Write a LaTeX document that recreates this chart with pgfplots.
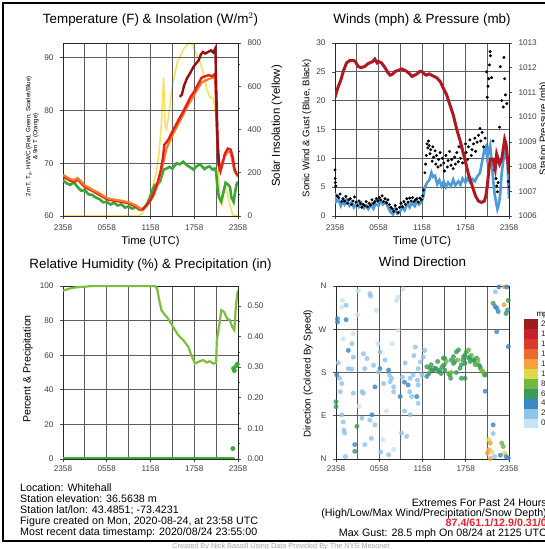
\documentclass[border=0pt]{standalone}
\usepackage{fontspec}
\setmainfont{Liberation Sans}
\usepackage{pgfplots}
\pgfplotsset{compat=1.18}
\definecolor{tRed}{RGB}{226,32,28}
\definecolor{tScar}{RGB}{150,15,22}
\definecolor{tOrg}{RGB}{245,125,35}
\definecolor{tGrn}{RGB}{60,165,55}
\definecolor{tYel}{RGB}{246,224,90}
\definecolor{pRed}{RGB}{175,25,35}
\definecolor{wBlu}{RGB}{80,155,215}
\definecolor{rhGrn}{RGB}{125,190,65}
\definecolor{prGrn}{RGB}{60,170,55}
\definecolor{gridc}{RGB}{95,95,95}
\definecolor{exRed}{RGB}{225,35,45}

\pgfplotsset{
  panel/.style={
    scale only axis, width=175pt, height=173pt,
    xmin=0, xmax=24,
    xtick={0,6,12,18,24}, minor xtick={3,9,15,21},
    xticklabels={2358,0558,1158,1758,2358},
    xtick pos=bottom, ytick pos=left,
    grid=both,
    major grid style={gridc, line width=0.8pt},
    minor grid style={gridc, line width=0.8pt},
    axis line style={black!85, line width=0.9pt},
    tick align=outside,
    tick style={black!70, line width=0.6pt},
    major tick length=3pt, minor tick length=0pt,
    tick label style={font=\fontsize{8.2}{9}\selectfont, text=black!75},
    xticklabel style={yshift=-2pt},
    yticklabel style={xshift=-3pt},
    /pgf/number format/assume math mode=true,
    title style={font=\fontsize{13.4}{15}\selectfont, at={(0.5,1)}, anchor=base, yshift=13.5pt},
    xlabel style={font=\fontsize{11.2}{12}\selectfont, at={(axis description cs:0.5,0)}, anchor=base, yshift=-28.5pt},
  },
  rside/.style={
    scale only axis, width=175pt, height=173pt,
    xmin=0, xmax=24, axis x line=none, axis y line*=right,
    axis line style={black!85, line width=0.9pt},
    tick align=outside,
    tick style={black!70, line width=0.6pt}, major tick length=3pt, minor tick length=2pt,
    tick label style={font=\fontsize{8.2}{9}\selectfont, text=black!75},
    yticklabel style={xshift=3pt},
    /pgf/number format/assume math mode=true,
    /pgf/number format/set thousands separator={},
  },
}

\begin{document}
\begin{tikzpicture}
\useasboundingbox (0,0) rectangle (545pt,549pt);
\clip (0,0) rectangle (545pt,549pt);
\fill[white] (0,0) rectangle (545pt,549pt);

% ---------- Temperature & insolation ----------
\begin{axis}[rside, at={(63pt,333pt)}, anchor=south west,
  ymin=0, ymax=800, ytick={0,200,...,800}, minor y tick num=1,
]
\addplot[tYel, line width=1.5pt] table {
t s
0 0
10.3 0
10.8 10
11.3 40
11.9 97
12.4 150
12.8 200
13.2 300
13.5 430
13.8 640
14.0 420
14.2 400
14.6 490
15.0 606
15.7 713
16.6 775
17.3 800
17.8 790
18.3 745
18.8 713
19.3 652
19.7 590
20.1 552
20.6 544
21.0 452
21.3 221
21.5 66
21.8 50
22.2 143
22.6 97
23.0 35
23.3 5
24 0
};
\end{axis}

\begin{axis}[panel, at={(63pt,333pt)}, anchor=south west,
  ymin=60, ymax=92.8, ytick={60,70,80,90},
  title={Temperature (F) \& Insolation (W/m$^2$)},
  xlabel={Time (UTC)},
  ylabel={2m T, T$_\mathrm{d}$, HI/WC (Red, Green, Scarlet/Blue)\\\& 9m T (Orange)},
  ylabel style={font=\fontsize{6.2}{7}\selectfont, align=center, at={(axis description cs:-0.175,0.46)}, anchor=center},
]
\addplot[tGrn, line width=2.6pt] table {
t v
0 66.8
0.5 66.2
1 65.9
1.5 66.4
2 65.5
2.5 64.8
3 64.9
3.5 64.1
4 64.0
4.5 63.5
5 63.2
5.5 62.6
6 62.7
6.5 62.2
7 62.5
7.5 62.0
8 62.2
8.5 61.6
9 61.8
9.5 61.4
10 61.7
10.5 61.2
11 61.4
11.5 62.2
11.9 63.4
12.3 65.0
12.6 65.9
13.0 66.0
13.3 66.5
13.8 68.8
14.2 69.0
14.6 69.3
15.0 69.0
15.6 70.0
16.0 69.8
16.5 70.3
17.0 69.6
17.5 69.2
17.9 68.8
18.3 69.4
18.8 69.8
19.4 68.9
19.8 69.3
20.1 69.4
20.5 68.8
20.8 69.0
21.0 68.4
21.2 65.0
21.4 63.5
21.7 62.8
22.0 64.5
22.3 66.3
22.6 66.0
22.9 65.5
23.1 63.5
23.4 62.7
23.6 64.5
23.8 66.0
24 66.5
};
\addplot[tRed, line width=2.4pt] table {
t v
0 67.5
1 66.7
1.5 66.5
2 66.9
3 65.5
4 64.8
5 64.0
6 63.2
7 62.9
8 62.7
9 62.4
10 61.8
10.8 61.1
};
\addplot[tOrg, line width=2.2pt] table {
t v
0 67.8
1 67.0
1.5 66.8
2 67.2
3 65.8
4 65.0
5 64.3
6 63.4
7 63.1
8 62.9
9 62.6
10 62.0
10.8 61.2
11.6 62.1
12.4 63.8
13.1 66.4
13.7 69.8
14.2 72.8
15 75.3
16 77.9
17 80.6
18 83.0
19 85.3
20 86.0
20.9 86.3
21.1 76.0
21.4 69.0
22.2 71.3
22.6 72.3
23 72.0
23.5 68.6
24 67.4
};
\addplot[tRed, line width=2.4pt] table {
t v
10.8 61.1
11.2 61.6
11.6 62.3
12.0 63.0
12.4 64.2
12.8 65.6
13.1 67.0
13.4 68.6
13.7 71.0
13.9 73.5
14.2 74.0
14.5 74.6
15.0 76.0
15.5 77.3
16.0 78.6
16.5 79.8
17.0 81.2
17.5 82.6
18.0 83.6
18.5 84.9
19.0 86.2
19.5 86.5
20.0 86.7
20.5 86.5
20.9 87.0
21.0 82.0
21.2 73.0
21.4 69.5
21.6 68.5
21.9 70.0
22.2 71.8
22.6 72.8
23.0 72.6
23.3 71.0
23.5 69.0
23.8 68.0
24.0 67.8
};
\addplot[tScar, line width=2.4pt] table {
t v
16.0 82.6
16.3 83.0
16.6 84.7
17.0 86.1
17.4 87.0
17.9 88.3
18.3 89.0
18.6 89.5
18.9 90.6
19.2 91.1
19.5 90.8
19.9 91.1
20.3 91.4
20.6 91.0
20.9 91.8
21.0 85.0
21.2 74.0
21.4 69.5
};
\end{axis}

% ---------- Winds & pressure ----------
\begin{axis}[panel, at={(335pt,333pt)}, anchor=south west, width=174pt,
  ymin=0, ymax=30, ytick={0,5,...,30},
  title={Winds (mph) \& Pressure (mb)},
  xlabel={Time (UTC)},
  ylabel={Sonic Wind \& Gust (Blue, Black)},
  ylabel style={font=\fontsize{9.6}{11}\selectfont, at={(axis description cs:-0.161,0.506)}, anchor=center},
]
\addplot[wBlu, line width=2.6pt] table {
t w
0 4.0
0.2 2.5
0.5 2.8
0.8 1.8
1.0 2.5
1.3 2.0
1.6 2.9
2.0 1.8
2.3 2.4
2.6 1.5
3.0 2.2
3.3 1.6
3.6 2.3
4.0 1.4
4.3 1.8
4.6 1.2
5.0 2.0
5.3 1.3
5.6 2.1
6.0 1.8
6.3 2.6
6.6 2.0
7.0 2.4
7.3 1.6
7.6 0.8
8.0 0.3
8.3 1.2
8.6 0.4
9.0 0.8
9.3 1.6
9.6 1.0
10.0 2.2
10.3 1.5
10.6 2.3
11.0 1.7
11.3 2.5
11.6 2.0
12.0 2.6
12.2 3.5
12.4 5.0
12.7 5.8
13.0 6.2
13.3 7.5
13.5 6.8
13.8 7.0
14.1 5.5
14.4 6.2
14.7 5.2
15.0 6.0
15.3 5.0
15.6 5.8
16.0 5.2
16.3 6.3
16.6 5.3
17.0 6.0
17.3 5.4
17.6 6.5
18.0 5.8
18.3 6.6
18.6 5.9
19.0 6.4
19.3 6.0
19.6 6.8
20.0 7.5
20.3 9.5
20.6 11.5
20.8 12.0
21.0 10.0
21.2 11.5
21.4 12.3
21.6 9.5
21.8 6.5
22.0 4.0
22.2 2.5
22.4 1.2
22.6 2.0
22.8 4.0
23.0 7.5
23.2 9.5
23.4 10.5
23.6 11.5
23.8 9.0
24.0 3.0
};
\addplot[only marks, mark=*, mark size=1.3pt, black] table {
t g
0 8.0
0.02 6.5
0.05 5.8
0.1 5.2
0.3 3.5
0.5 3.2
0.7 3.8
0.9 2.5
1.1 3.0
1.3 2.6
1.5 3.4
1.7 2.2
1.9 2.8
2.1 3.0
2.3 2.0
2.5 2.6
2.7 3.3
2.9 2.4
3.1 1.8
3.3 2.6
3.5 2.2
3.7 1.5
3.9 2.0
4.1 1.8
4.3 2.5
4.5 1.6
4.7 2.2
4.9 1.9
5.1 2.8
5.3 2.2
5.5 2.5
5.7 3.0
5.9 2.6
6.1 3.2
6.3 2.8
6.5 3.5
6.7 2.5
6.9 3.0
7.1 2.3
7.3 2.8
7.5 2.0
7.7 1.5
7.9 1.2
8.1 0.8
8.3 1.8
8.5 1.2
8.7 0.6
8.9 1.5
9.1 2.2
9.3 1.6
9.5 2.5
9.7 2.0
9.9 3.0
10.1 2.4
10.3 3.1
10.5 2.6
10.7 3.2
10.9 2.5
11.1 2.8
11.3 3.0
11.5 2.4
11.7 3.1
11.9 2.8
12.1 3.5
12.2 4.5
12.4 7.5
12.5 9.0
12.6 10.5
12.7 12.5
12.8 11.8
12.9 13.0
13.0 12.2
13.1 10.8
13.2 11.5
13.4 9.5
13.5 12.0
13.6 10.2
13.8 11.3
13.9 9.0
14.0 10.5
14.2 8.5
14.3 9.8
14.5 11.0
14.6 8.8
14.8 10.0
15.0 9.2
15.1 7.8
15.3 10.5
15.5 8.5
15.6 9.6
15.8 11.2
16.0 8.8
16.1 9.8
16.3 8.2
16.5 10.2
16.6 9.0
16.8 11.0
17.0 9.4
17.1 12.0
17.3 10.0
17.5 11.8
17.6 9.2
17.8 10.8
18.0 12.5
18.1 11.0
18.3 9.8
18.4 12.0
18.6 13.2
18.8 10.5
18.9 11.5
19.1 12.5
19.3 13.5
19.4 11.2
19.6 12.8
19.8 14.0
20.0 15.2
20.1 13.0
20.3 14.5
20.5 12.0
20.7 13.5
20.9 25.0
21.0 20.6
21.1 22.5
21.2 23.8
21.3 26.2
21.4 28.5
21.45 27.8
21.6 24.0
21.8 13.0
22.0 8.0
22.2 6.5
22.3 5.2
22.4 4.2
22.5 5.8
22.7 15.4
22.8 25.9
23.0 20.0
23.2 18.9
23.3 27.5
23.4 23.8
23.5 21.0
23.7 19.5
23.9 6.0
24.0 5.0
};
\end{axis}

\begin{axis}[rside, at={(335pt,333pt)}, anchor=south west, width=174pt,
  ymin=1006, ymax=1013, ytick={1006,1007,...,1013}, minor y tick num=1,
]
\addplot[pRed, line width=3pt] table {
t p
0 1010.8
0.4 1011.2
0.8 1011.5
1.2 1011.9
1.6 1012.2
2.1 1012.3
2.5 1012.3
2.8 1012.25
3.2 1012.05
3.6 1012.0
4.1 1012.05
4.5 1012.15
4.8 1012.2
5.2 1012.25
5.5 1012.35
5.8 1012.2
6.0 1012.25
6.4 1012.2
6.9 1012.0
7.3 1011.8
7.6 1011.7
8.0 1011.75
8.3 1011.85
8.8 1011.9
9.2 1011.95
9.6 1011.9
9.9 1011.85
10.3 1011.75
10.6 1011.65
11.0 1011.7
11.3 1011.75
11.7 1011.85
12.0 1011.85
12.3 1011.75
12.6 1011.7
13.0 1011.75
13.5 1011.67
14.0 1011.6
14.5 1011.45
14.9 1011.2
15.4 1010.9
15.9 1010.45
16.3 1010.1
16.8 1009.5
17.3 1009.0
17.9 1008.3
18.4 1007.7
19.0 1007.15
19.4 1006.8
19.8 1006.6
20.2 1006.55
20.6 1006.6
20.8 1006.8
21.0 1007.2
21.2 1007.8
21.4 1008.3
21.8 1008.3
22.1 1007.9
22.3 1008.5
22.7 1008.1
23.0 1008.3
23.2 1008.7
23.4 1009.1
23.6 1008.9
23.8 1008.3
24.0 1007.7
};
\end{axis}

% ---------- Relative humidity & precipitation ----------
\begin{axis}[panel, at={(63pt,90pt)}, anchor=south west,
  ymin=0, ymax=100, ytick={0,20,...,100},
  xticklabel style={yshift=2pt},
  title={Relative Humidity (\%) \& Precipitation (in)},
  title style={yshift=-2pt},
  ylabel={Percent \& Precipitation},
  ylabel style={font=\fontsize{10.6}{12}\selectfont, at={(axis description cs:-0.2,0.52)}, anchor=center},
]
\addplot[rhGrn, line width=2.2pt] table {
t rh
0 97.3
0.5 98.0
1.0 98.6
1.7 99.2
3.0 99.6
4 100
12.6 100
12.9 98.6
13.2 91.9
13.5 86.0
14.0 83.2
14.4 81.2
15.1 76.4
15.8 71.6
16.5 68.7
17.2 64.8
17.6 60.0
18.1 55.2
18.6 56.2
19.2 57.2
19.7 55.8
20.1 56.5
20.6 55.2
21.0 55.5
21.1 68.7
21.5 79.3
21.7 86.0
22.1 85.0
22.5 81.2
22.9 80.2
23.2 76.4
23.5 74.5
23.7 87.8
23.9 95.5
24.0 97.3
};
\end{axis}

\begin{axis}[rside, at={(63pt,90pt)}, anchor=south west,
  ymin=0, ymax=0.565, ytick={0,0.1,...,0.5}, minor y tick num=1,
  yticklabel style={/pgf/number format/.cd, fixed, fixed zerofill, precision=2},
]
\addplot[prGrn, line width=4.4pt, line cap=round] table {
t p
0.1 0
23.3 0
};
\addplot[only marks, mark=*, mark size=2.2pt, prGrn] table {
t p
23.3 0.034
23.4 0.296
23.5 0.289
23.8 0.305
23.9 0.31
};
\end{axis}

% ---------- Wind direction ----------
\begin{axis}[panel, at={(336pt,90pt)}, anchor=south west, width=173pt,
  ymin=0, ymax=360, ytick={0,90,180,270,360}, yticklabels={N,E,S,W,N},
  xticklabel style={yshift=2pt},
  title={Wind Direction},
  title style={yshift=0.5pt},
  ylabel={Direction (Colored By Speed)},
  ylabel style={font=\fontsize{9.8}{11}\selectfont, at={(axis description cs:-0.162,0.494)}, anchor=center},
  colormap={spd}{rgb255=(197,228,246) rgb255=(143,195,234) rgb255=(61,135,196)
    rgb255=(58,156,92) rgb255=(116,184,67) rgb255=(220,217,76) rgb255=(244,162,60)
    rgb255=(234,107,44) rgb255=(220,58,46) rgb255=(199,32,42) rgb255=(155,27,30)},
  colormap access=piecewise constant,
  point meta min=-1, point meta max=21,
  colorbar,
  colorbar style={
    at={(parent axis.south east)}, anchor=south west, xshift=6pt, yshift=31pt,
    scale only axis, width=15pt, height=109pt,
    ytick={0,2,...,20}, yticklabel pos=right,
    tick style={draw=none}, axis line style={draw=none},
    yticklabel style={font=\fontsize{8}{9}\selectfont, text=black!85, xshift=-1pt},
    /pgf/number format/assume math mode=true,
  },
]
\addplot[scatter, only marks, mark=*, mark size=2.2pt, point meta=explicit,
  fill opacity=0.8, draw opacity=0.8,
  scatter/use mapped color={draw=mapped color, fill=mapped color}] table[meta=s] {
t d s
0.2 292 4
0.2 285 4
1.4 290 4
1.4 320 1.5
0.8 316 0.5
3.1 350 0.5
4.7 344 1.5
4.8 339 1.5
5.6 309 0.5
8.4 330 0.5
8.6 337 0.5
9.3 354 0.5
8.6 268 0.5
2.4 261 0.5
2.2 240 1.5
1.7 226 4
2.4 212 1.5
3.8 219 1.5
4.3 209 1.5
6.1 223 1.5
6.8 206 1.5
5.2 195 1.5
4.0 188 1.5
1.7 188 2
2.2 187 1.5
6.1 188 4
5.9 181 2
7.3 185 4
7.4 175 2
7.7 168 2
7.5 161 2
8.0 150 2
8.0 140 1.5
8.9 130 4
6.6 157 1.5
5.4 150 4
3.8 137 2
3.6 140 2
2.4 137 1.5
0.8 157 1.5
0.6 140 2
0.0 119 5
0.0 109 5
0.8 92 2
1.0 77 2
2.9 68 5
3.6 85 1.5
5.0 92 4
4.7 81 1.5
5.4 71 1.5
1.2 54 2
2.6 30 4
2.6 16 5
4.0 30 1.5
4.9 43 1.5
7.3 9 1.5
9.1 54 1.5
9.8 47 1.5
10.3 92 1.5
10.0 154 4
10.3 168 1.5
10.7 175 1.5
11.3 164 2
11.2 130 4
11.4 116 1.5
11.4 154 2
11.7 202 1.5
12.3 226 1.5
12.1 212 1.5
11.4 188 1.5
11.9 175 2
0.5 168 1.5
0.3 200 1.5
0.1 175 4
1.1 60 1.5
6.5 40 0.5
6.2 15 1.5
8.0 20 0.5
1.3 5 1.5
9.5 100 1.5
10.5 130 1.5
7.0 100 0.5
3.2 110 0.5
3.0 300 0.5
1.0 250 0.5
0.9 330 0.5
5.8 240 0.5
7.8 240 0.5
9.6 200 1.5
10.8 215 1.5
11.0 233 1.5
9.2 170 1.5
9.5 160 4
10.2 140 1.5
12.6 192 6
12.6 172 4
12.9 178 6
13.0 189 6
13.2 196 6
13.3 185 6
13.5 185 6
13.7 189 6
13.9 188 6
14.1 203 6
14.2 182 6
14.4 185 6
14.6 178 6
14.7 192 6
14.9 210 6
15.0 196 6
15.1 185 6
15.1 209 6
15.3 203 8
15.6 178 8
15.8 175 6
15.9 168 6
16.0 206 6
16.0 180 8
16.3 213 6
16.3 199 6
16.5 203 6
16.7 223 6
16.7 180 6
16.9 206 8
17.0 227 6
17.2 189 6
17.4 196 6
17.4 168 6
17.6 206 6
17.7 213 6
17.9 216 6
17.9 168 6
17.9 199 6
18.1 223 6
18.4 227 8
18.4 210 6
18.6 203 6
18.6 213 6
18.8 216 8
19.0 206 6
19.1 206 6
19.3 199 6
19.3 196 8
19.5 210 6
19.7 206 8
19.8 196 6
20.0 189 8
20.0 192 6
20.2 185 8
20.4 182 8
20.5 178 8
20.6 175 8
20.7 175 6
20.7 141 4
22.6 358 4
23.4 358 12
23.7 358 4
22.1 348 1.5
21.8 324 6
22.1 317 4
22.3 314 4
22.5 307 4
23.3 321 11
23.6 303 6
23.8 310 4
22.3 265 4
23.9 234 4
21.8 71 4
21.8 53 1.5
21.2 40 10
21.4 33 12
21.2 19 12
21.0 12 12
21.6 15 10
23.0 33 8
23.2 26 8
22.8 8 4
23.4 12 10
23.6 5 4
23.9 2 4
21.4 1 12
22.0 5 1.5
23.9 330 6
};
\end{axis}

% ---------- right-hand axis titles, frame and notes ----------
\node[rotate=90, font=\fontsize{11.4}{12}\selectfont] at (277pt,423pt) {Solar Insolation (Yellow)};
\node[rotate=90, font=\fontsize{9.6}{11}\selectfont] at (544pt,420.5pt) {Station Pressure (mb)};
\node[anchor=base west, font=\fontsize{8}{9}\selectfont] at (533pt,232pt) {mph};
\draw[line width=2.2pt] (3pt,8pt) rectangle (600pt,546pt);
\begin{scope}[every node/.style={font=\fontsize{10.7}{12}\selectfont, inner sep=0pt}]
\node[anchor=base west] at (20pt,57.5pt) {Location: Whitehall};
\node[anchor=base west] at (20pt,46.5pt) {Station elevation: 36.5638 m};
\node[anchor=base west] at (20pt,35.5pt) {Station lat/lon: 43.4851; -73.4231};
\node[anchor=base west] at (20pt,24.5pt) {Figure created on Mon, 2020-08-24, at 23:58 UTC};
\node[anchor=base west] at (20pt,13.5pt) {Most recent data timestamp: 2020/08/24 23:55:00};
\node[anchor=base east] at (547pt,42.5pt) {Extremes For Past 24 Hours};
\node[anchor=base east] at (547pt,32.5pt) {(High/Low/Max Wind/Precipitation/Snow Depth)};
\node[anchor=base east, text=exRed, font=\fontsize{10.7}{12}\bfseries] at (547pt,22.5pt) {87.4/61.1/12.9/0.31/0};
\node[anchor=base east] at (547pt,12.5pt) {Max Gust: 28.5 mph On 08/24 at 2125 UTC};
\node[anchor=base, text=black!35, font=\fontsize{7.3}{8}\selectfont] at (281pt,0.5pt) {Created By Nick Bassill Using Data Provided By The NYS Mesonet};
\end{scope}
\end{tikzpicture}
\end{document}
